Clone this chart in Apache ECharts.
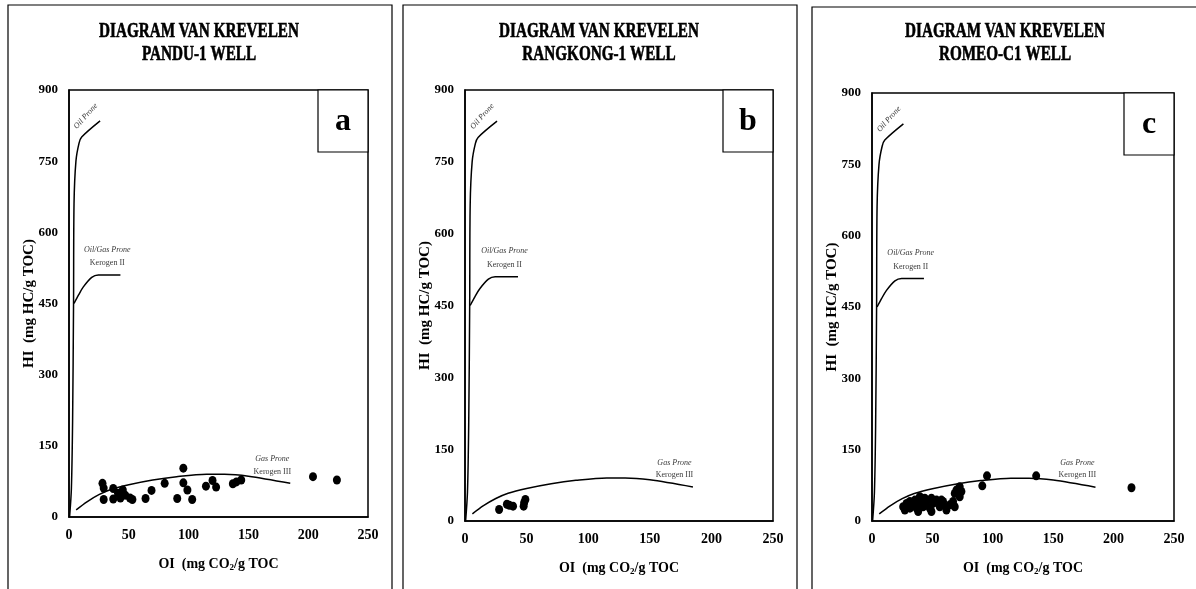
<!DOCTYPE html>
<html lang="en">
<head>
<meta charset="UTF-8">
<title>Diagram van Krevelen</title>
<script src="https://cdn.jsdelivr.net/npm/echarts@6/dist/echarts.min.js"></script>
<style>
  html, body { margin: 0; padding: 0; background: #fff; }
  #chart { width: 1196px; height: 589px; }
</style>
</head>
<body>
<div id="chart"></div>
<script>
// kerogen boundary curves [OI, HI]
var typeI = [[0.5,0],[2,60],[3,200],[3.8,450],[4.2,660],[5.8,750],[8.4,788],[10.6,801],[26,835]];
var typeII = [[4.2,450],[8,468],[12,485],[19,505],[24.5,510],[43,510]];
var typeIII = [[6,15],[15,32],[25,47],[35,58],[50,68],[70,78],[90,85],[115,90],[130,90],[150,86],[185,71]];

// curve notes [OI, HI, text]
var notes = [[14,845,'Oil Prone'],[32,563,'Oil/Gas Prone'],[32,535,'Kerogen II'],[170,122,'Gas Prone'],[170,96,'Kerogen III']];

// samples [OI, HI]
var pandu = [[28,71],[29,61],[29,37],[37,60],[37,38],[41,50],[43,40],[45,57],[47,46],[51,40],[53,37],[64,39],[69,56],[80,71],[90.5,39],[95.6,103],[95.6,72],[99,57],[103,37],[114.5,65],[120,77],[123,63],[137,70],[140,74],[144,78],[204,85],[224,78]];
var rangkong = [[27.7,24],[34,35],[36,33],[39,31],[47.6,31],[48,38],[49,45]];
var romeo = [[25.8,30],[28.6,37],[31.4,27],[34.1,34],[36.9,27],[39.6,51],[39.6,37],[42.3,30],[45.1,41],[47.9,27],[50.6,37],[53.4,44],[56.1,30],[58.8,41],[61.6,30],[64.4,34],[67.1,41],[68.5,30],[68.5,58],[69.9,65],[72.6,72],[72.6,51],[74,62],[31.4,41],[35.5,44],[43.7,48],[49.2,48],[57.5,44],[27.2,23],[38.2,20],[49.2,20],[61.6,23],[91.3,74],[95.2,95],[135.9,95],[214.8,70]];

var wells = ['PANDU-1 WELL','RANGKONG-1 WELL','ROMEO-C1 WELL'];
var letters = ['a','b','c'];
var samples = [pandu, rangkong, romeo];

var serif = '"Liberation Serif", "Times New Roman", serif';

// layout of the three panels
var grids = [
  {left: 69, top: 90, width: 299, height: 427},
  {left: 465, top: 90, width: 308, height: 431},
  {left: 872, top: 93, width: 302, height: 428}
];
var frames = [[8,5,384],[403,5,394],[812,7,400]];
var titleX = [199, 599, 1005];

var chart = echarts.init(document.getElementById('chart'));

var xAxis = [], yAxis = [], series = [], graphic = [];

grids.forEach(function(g, i){
  g.show = true;
  g.borderColor = '#000';
  g.borderWidth = 1.5;
  g.backgroundColor = 'transparent';

  xAxis.push({
    gridIndex: i, type: 'value', min: 0, max: 250, interval: 50,
    name: 'OI  (mg CO{s|2}/g TOC', nameLocation: 'middle', nameGap: 40,
    nameTextStyle: {
      fontFamily: serif, fontSize: 14, fontWeight: 'bold', color: '#000',
      rich: {s: {fontFamily: serif, fontSize: 9, fontWeight: 'bold', verticalAlign: 'bottom', padding: [6,0,0,0]}}
    },
    axisLine: {lineStyle: {color: '#000', width: 1.5}},
    axisTick: {show: false},
    splitLine: {show: false},
    axisLabel: {color: '#000', fontFamily: serif, fontSize: 14, fontWeight: 'bold', margin: 11}
  });
  yAxis.push({
    gridIndex: i, type: 'value', min: 0, max: 900, interval: 150,
    name: 'HI  (mg HC/g TOC)', nameLocation: 'middle', nameGap: 32,
    nameMoveOverlap: false,
    nameTextStyle: {fontFamily: serif, fontSize: 15, fontWeight: 'bold', color: '#000'},
    axisLine: {lineStyle: {color: '#000', width: 1.5}},
    axisTick: {show: false},
    splitLine: {show: false},
    axisLabel: {color: '#000', fontFamily: serif, fontSize: 13, fontWeight: 'bold', margin: 11}
  });

  [typeI, typeII, typeIII].forEach(function(curve){
    series.push({
      type: 'line', xAxisIndex: i, yAxisIndex: i, data: curve,
      smooth: 0.3, showSymbol: false, silent: true,
      lineStyle: {color: '#000', width: 1.5}
    });
  });

  series.push({
    type: 'scatter', xAxisIndex: i, yAxisIndex: i, silent: true,
    symbolSize: 0,
    data: notes.map(function(n, k){
      var item = {value: n};
      if (k === 0) item.label = {rotate: 48};
      if (n[2].indexOf('Kerogen') === 0) item.label = {fontStyle: 'normal'};
      return item;
    }),
    label: {
      show: true, position: 'inside', color: '#000',
      fontFamily: serif, fontSize: 8,
      formatter: function(p){ return p.data.value[2]; },
      fontStyle: 'italic'
    }
  });

  series.push({
    type: 'scatter', xAxisIndex: i, yAxisIndex: i, data: samples[i],
    symbol: 'circle', symbolSize: [8, 9],
    itemStyle: {color: '#000', opacity: 1}
  });

  var f = frames[i];
  graphic.push({
    type: 'rect', shape: {x: f[0], y: f[1], width: f[2], height: 620}, silent: true,
    style: {fill: 'none', stroke: '#000', lineWidth: 1.2}
  });
  graphic.push({
    type: 'text', x: titleX[i], y: 20, scaleX: 0.76, silent: true,
    style: {text: 'DIAGRAM VAN KREVELEN\n' + wells[i], textAlign: 'center', fill: '#000',
      font: 'bold 20px ' + serif, lineHeight: 23, stroke: '#000', lineWidth: 0.6}
  });
  var bx = g.left + g.width - 50;
  graphic.push({
    type: 'rect', shape: {x: bx, y: g.top, width: 50, height: 62}, silent: true,
    style: {fill: '#fff', stroke: '#000', lineWidth: 1.2}
  });
  graphic.push({
    type: 'text', x: bx + 25, y: g.top + 16, silent: true,
    style: {text: letters[i], textAlign: 'center', fill: '#000', font: 'bold 32px ' + serif}
  });
});

var option = {
  backgroundColor: '#fff',
  animation: false,
  grid: grids,
  xAxis: xAxis,
  yAxis: yAxis,
  series: series,
  graphic: graphic
};
chart.setOption(option);
</script>
</body>
</html>
